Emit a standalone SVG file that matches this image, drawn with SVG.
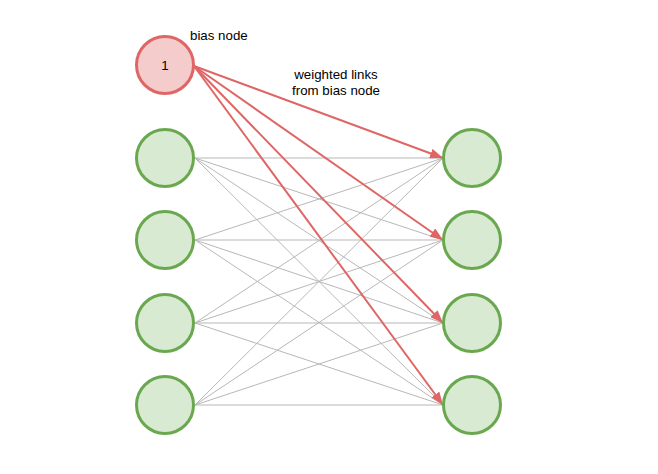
<svg xmlns="http://www.w3.org/2000/svg" width="658" height="474" viewBox="0 0 658 474">
<style>
.n{fill:#d9ead3;stroke:#6aa84f;stroke-width:3}
.b{fill:#f4cccc;stroke:#e06666;stroke-width:3}
.g{stroke:#b7b7b7;stroke-width:1;fill:none}
.r{stroke:#e06666;stroke-width:2;fill:none;marker-end:url(#ah)}
text{font-family:"Liberation Sans",Arial,sans-serif;font-size:13.3px;fill:#000}
</style>
<defs>
<marker id="ah" markerUnits="userSpaceOnUse" markerWidth="14" markerHeight="10" refX="13" refY="5" orient="auto">
<path d="M0,0 L13,5 L0,10 Z" fill="#e06666"/>
</marker>
</defs>
<rect width="658" height="474" fill="#fff"/>
<g id="connectors">
<g class="g">
<line x1="195" y1="158" x2="443" y2="158"/><line x1="195" y1="158" x2="443" y2="240"/><line x1="195" y1="158" x2="443" y2="323"/><line x1="195" y1="158" x2="443" y2="405"/>
<line x1="195" y1="240" x2="443" y2="158"/><line x1="195" y1="240" x2="443" y2="240"/><line x1="195" y1="240" x2="443" y2="323"/><line x1="195" y1="240" x2="443" y2="405"/>
<line x1="195" y1="323" x2="443" y2="158"/><line x1="195" y1="323" x2="443" y2="240"/><line x1="195" y1="323" x2="443" y2="323"/><line x1="195" y1="323" x2="443" y2="405"/>
<line x1="195" y1="405" x2="443" y2="158"/><line x1="195" y1="405" x2="443" y2="240"/><line x1="195" y1="405" x2="443" y2="323"/><line x1="195" y1="405" x2="443" y2="405"/>
</g>
<line class="r" x1="194" y1="66" x2="443" y2="158"/>
<line class="r" x1="194" y1="66" x2="443" y2="240"/>
<line class="r" x1="194" y1="66" x2="443" y2="323"/>
<line class="r" x1="194" y1="66" x2="443" y2="405"/>
</g>
<g id="bias"><circle class="b" cx="165" cy="65" r="28.5"/><text x="165" y="70" text-anchor="middle">1</text></g>
<text x="190" y="40">bias node</text>
<text x="336" y="79" text-anchor="middle">weighted links</text>
<text x="336" y="95" text-anchor="middle">from bias node</text>
<g id="in1"><circle class="n" cx="165" cy="158" r="28.5"/></g>
<g id="in2"><circle class="n" cx="165" cy="240" r="28.5"/></g>
<g id="in3"><circle class="n" cx="165" cy="323" r="28.5"/></g>
<g id="in4"><circle class="n" cx="165" cy="405" r="28.5"/></g>
<g id="out1"><circle class="n" cx="472" cy="158" r="28.5"/></g>
<g id="out2"><circle class="n" cx="472" cy="240" r="28.5"/></g>
<g id="out3"><circle class="n" cx="472" cy="323" r="28.5"/></g>
<g id="out4"><circle class="n" cx="472" cy="405" r="28.5"/></g>
</svg>
